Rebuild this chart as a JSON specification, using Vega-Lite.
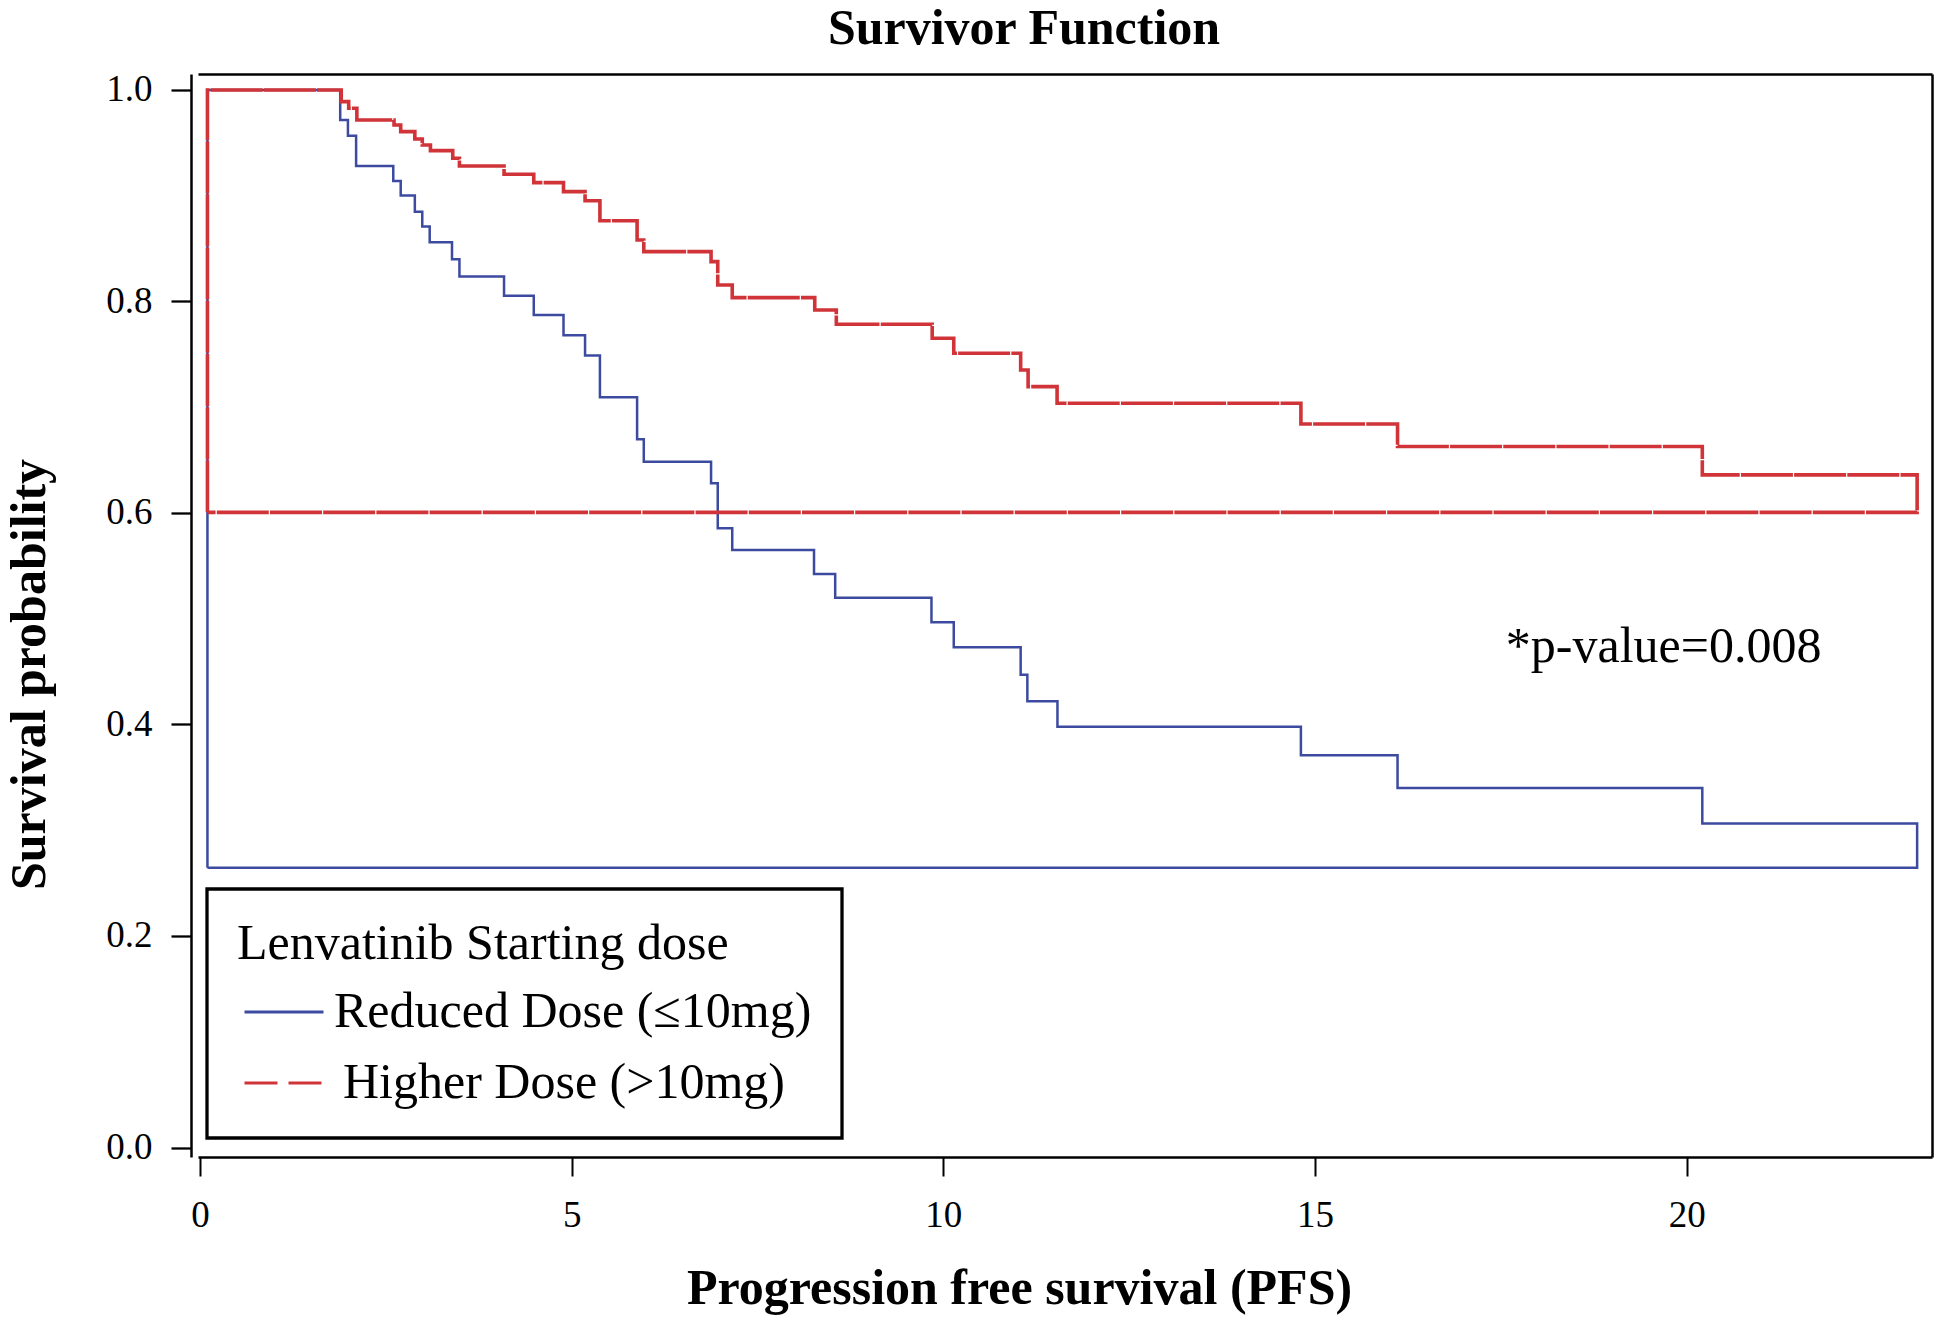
{
  "$schema": "https://vega.github.io/schema/vega-lite/v6.json",
  "width": 1734,
  "height": 1083,
  "autosize": {"type": "none"},
  "padding": {"left": 198, "top": 74, "right": 3, "bottom": 162},
  "background": "white",
  "config": {
    "view": {"stroke": null},
    "font": "Liberation Serif",
    "axis": {"grid": false, "domainColor": "black", "tickColor": "black", "labelColor": "black", "titleColor": "black", "labelFont": "Liberation Serif", "titleFont": "Liberation Serif"}
  },
  "title": {"text": "Survivor Function", "font": "Liberation Serif", "fontSize": 50, "fontWeight": "bold", "color": "black", "anchor": "middle", "dx": -41, "offset": 17},
  "datasets": {
    "km": [
      {"group": "Reduced Dose (≤10mg)", "i": 0, "t": 0.1, "s": 0.2646},
      {"group": "Reduced Dose (≤10mg)", "i": 1, "t": 0.1, "s": 1.0},
      {"group": "Reduced Dose (≤10mg)", "i": 2, "t": 1.886, "s": 0.9716},
      {"group": "Reduced Dose (≤10mg)", "i": 3, "t": 1.99, "s": 0.9568},
      {"group": "Reduced Dose (≤10mg)", "i": 4, "t": 2.10, "s": 0.9281},
      {"group": "Reduced Dose (≤10mg)", "i": 5, "t": 2.60, "s": 0.9139},
      {"group": "Reduced Dose (≤10mg)", "i": 6, "t": 2.70, "s": 0.9001},
      {"group": "Reduced Dose (≤10mg)", "i": 7, "t": 2.89, "s": 0.8849},
      {"group": "Reduced Dose (≤10mg)", "i": 8, "t": 2.99, "s": 0.8708},
      {"group": "Reduced Dose (≤10mg)", "i": 9, "t": 3.09, "s": 0.8560},
      {"group": "Reduced Dose (≤10mg)", "i": 10, "t": 3.39, "s": 0.8399},
      {"group": "Reduced Dose (≤10mg)", "i": 11, "t": 3.49, "s": 0.8235},
      {"group": "Reduced Dose (≤10mg)", "i": 12, "t": 4.09, "s": 0.8055},
      {"group": "Reduced Dose (≤10mg)", "i": 13, "t": 4.49, "s": 0.7872},
      {"group": "Reduced Dose (≤10mg)", "i": 14, "t": 4.89, "s": 0.7680},
      {"group": "Reduced Dose (≤10mg)", "i": 15, "t": 5.18, "s": 0.7488},
      {"group": "Reduced Dose (≤10mg)", "i": 16, "t": 5.38, "s": 0.7094},
      {"group": "Reduced Dose (≤10mg)", "i": 17, "t": 5.88, "s": 0.6697},
      {"group": "Reduced Dose (≤10mg)", "i": 18, "t": 5.97, "s": 0.6485},
      {"group": "Reduced Dose (≤10mg)", "i": 19, "t": 6.875, "s": 0.6281},
      {"group": "Reduced Dose (≤10mg)", "i": 20, "t": 6.965, "s": 0.5855},
      {"group": "Reduced Dose (≤10mg)", "i": 21, "t": 7.16, "s": 0.5650},
      {"group": "Reduced Dose (≤10mg)", "i": 22, "t": 8.26, "s": 0.5423},
      {"group": "Reduced Dose (≤10mg)", "i": 23, "t": 8.545, "s": 0.5199},
      {"group": "Reduced Dose (≤10mg)", "i": 24, "t": 9.84, "s": 0.4966},
      {"group": "Reduced Dose (≤10mg)", "i": 25, "t": 10.14, "s": 0.4730},
      {"group": "Reduced Dose (≤10mg)", "i": 26, "t": 11.04, "s": 0.4471},
      {"group": "Reduced Dose (≤10mg)", "i": 27, "t": 11.13, "s": 0.4219},
      {"group": "Reduced Dose (≤10mg)", "i": 28, "t": 11.535, "s": 0.3979},
      {"group": "Reduced Dose (≤10mg)", "i": 29, "t": 14.81, "s": 0.3708},
      {"group": "Reduced Dose (≤10mg)", "i": 30, "t": 16.11, "s": 0.3400},
      {"group": "Reduced Dose (≤10mg)", "i": 31, "t": 20.21, "s": 0.3064},
      {"group": "Reduced Dose (≤10mg)", "i": 32, "t": 23.10, "s": 0.2646},
      {"group": "Reduced Dose (≤10mg)", "i": 33, "t": 0.1, "s": 0.2646},
      {"group": "Higher Dose (>10mg)", "i": 0, "t": 0.1, "s": 0.6006},
      {"group": "Higher Dose (>10mg)", "i": 1, "t": 0.1, "s": 1.0},
      {"group": "Higher Dose (>10mg)", "i": 2, "t": 1.90, "s": 0.9890},
      {"group": "Higher Dose (>10mg)", "i": 3, "t": 2.00, "s": 0.9827},
      {"group": "Higher Dose (>10mg)", "i": 4, "t": 2.11, "s": 0.9716},
      {"group": "Higher Dose (>10mg)", "i": 5, "t": 2.61, "s": 0.9669},
      {"group": "Higher Dose (>10mg)", "i": 6, "t": 2.70, "s": 0.9606},
      {"group": "Higher Dose (>10mg)", "i": 7, "t": 2.89, "s": 0.9537},
      {"group": "Higher Dose (>10mg)", "i": 8, "t": 2.99, "s": 0.9480},
      {"group": "Higher Dose (>10mg)", "i": 9, "t": 3.10, "s": 0.9426},
      {"group": "Higher Dose (>10mg)", "i": 10, "t": 3.40, "s": 0.9354},
      {"group": "Higher Dose (>10mg)", "i": 11, "t": 3.49, "s": 0.9281},
      {"group": "Higher Dose (>10mg)", "i": 12, "t": 4.09, "s": 0.9203},
      {"group": "Higher Dose (>10mg)", "i": 13, "t": 4.49, "s": 0.9124},
      {"group": "Higher Dose (>10mg)", "i": 14, "t": 4.89, "s": 0.9039},
      {"group": "Higher Dose (>10mg)", "i": 15, "t": 5.18, "s": 0.8953},
      {"group": "Higher Dose (>10mg)", "i": 16, "t": 5.38, "s": 0.8764},
      {"group": "Higher Dose (>10mg)", "i": 17, "t": 5.88, "s": 0.8582},
      {"group": "Higher Dose (>10mg)", "i": 18, "t": 5.97, "s": 0.8471},
      {"group": "Higher Dose (>10mg)", "i": 19, "t": 6.875, "s": 0.8377},
      {"group": "Higher Dose (>10mg)", "i": 20, "t": 6.965, "s": 0.8156},
      {"group": "Higher Dose (>10mg)", "i": 21, "t": 7.16, "s": 0.8036},
      {"group": "Higher Dose (>10mg)", "i": 22, "t": 8.27, "s": 0.7920},
      {"group": "Higher Dose (>10mg)", "i": 23, "t": 8.56, "s": 0.7784},
      {"group": "Higher Dose (>10mg)", "i": 24, "t": 9.85, "s": 0.7652},
      {"group": "Higher Dose (>10mg)", "i": 25, "t": 10.14, "s": 0.7510},
      {"group": "Higher Dose (>10mg)", "i": 26, "t": 11.04, "s": 0.7352},
      {"group": "Higher Dose (>10mg)", "i": 27, "t": 11.14, "s": 0.7195},
      {"group": "Higher Dose (>10mg)", "i": 28, "t": 11.53, "s": 0.7037},
      {"group": "Higher Dose (>10mg)", "i": 29, "t": 14.81, "s": 0.6842},
      {"group": "Higher Dose (>10mg)", "i": 30, "t": 16.11, "s": 0.6628},
      {"group": "Higher Dose (>10mg)", "i": 31, "t": 20.21, "s": 0.6360},
      {"group": "Higher Dose (>10mg)", "i": 32, "t": 23.10, "s": 0.6006},
      {"group": "Higher Dose (>10mg)", "i": 33, "t": 0.1, "s": 0.6006}
    ],
    "note": [
      {"label": "*p-value=0.008", "t": 19.69, "s": 0.4595}
    ]
  },
  "layer": [
    {
      "data": {"name": "km"},
      "transform": [{"filter": "datum.group === 'Reduced Dose (≤10mg)'"}],
      "mark": {"type": "line", "interpolate": "step-after", "strokeWidth": 2.5},
      "encoding": {
        "x": {"field": "t", "type": "quantitative", "scale": {"domain": [-0.027, 23.30], "nice": false, "zero": false},
          "axis": {"orient": "bottom", "values": [0, 5, 10, 15, 20], "format": "d", "tickSize": 19, "tickWidth": 2, "domainWidth": 2.5, "labelFontSize": 37, "labelPadding": 21, "labelFlush": false, "labelOverlap": false, "title": "Progression free survival (PFS)", "titleFontSize": 50, "titleFontWeight": "bold", "titlePadding": 30, "titleX": 821}},
        "y": {"field": "s", "type": "quantitative", "scale": {"domain": [-0.00898, 1.0151], "nice": false, "zero": false},
          "axis": {"orient": "left", "offset": 7, "values": [0, 0.2, 0.4, 0.6, 0.8, 1.0], "format": ".1f", "tickSize": 20, "tickWidth": 2.3, "domainWidth": 2.5, "labelFontSize": 37, "labelPadding": 19, "labelOverlap": false, "title": "Survival probability", "titleFontSize": 50, "titleFontWeight": "bold", "titlePadding": 51, "titleY": 600}},
        "color": {"field": "group", "type": "nominal",
          "scale": {"domain": ["Reduced Dose (≤10mg)", "Higher Dose (>10mg)"], "range": ["#3C4A9F", "#D03438"]},
          "legend": {"orient": "none", "legendX": 9, "legendY": 815, "title": "Lenvatinib Starting dose", "titleFont": "Liberation Serif", "titleFontSize": 50, "titleFontWeight": "normal", "titleColor": "black", "titlePadding": 2, "titleLimit": 1000, "labelFont": "Liberation Serif", "labelFontSize": 50, "labelColor": "black", "labelLimit": 1000, "labelOffset": 10, "symbolType": "stroke", "symbolSize": 6241, "symbolStrokeWidth": 2.8, "symbolOffset": 6, "rowPadding": 5, "padding": 30, "strokeColor": "black",
            "encode": {"legend": {"update": {"strokeWidth": {"value": 3.3}}}, "labels": {"update": {"dx": {"signal": "datum.value === 'Higher Dose (>10mg)' ? 8 : -1"}}}, "symbols": {"update": {"strokeDash": {"signal": "datum.value === 'Higher Dose (>10mg)' ? [33, 11] : [1, 0]"}}}}}},
        "order": {"field": "i", "type": "quantitative"}
      }
    },
    {
      "data": {"name": "km"},
      "transform": [{"filter": "datum.group === 'Higher Dose (>10mg)'"}],
      "mark": {"type": "line", "interpolate": "step-after", "strokeWidth": 3.6, "strokeDash": [52, 1.2]},
      "encoding": {
        "x": {"field": "t", "type": "quantitative", "scale": {"domain": [-0.027, 23.30], "nice": false, "zero": false}, "axis": null},
        "y": {"field": "s", "type": "quantitative", "scale": {"domain": [-0.00898, 1.0151], "nice": false, "zero": false}, "axis": null},
        "color": {"field": "group", "type": "nominal", "scale": {"domain": ["Reduced Dose (≤10mg)", "Higher Dose (>10mg)"], "range": ["#3C4A9F", "#D03438"]}},
        "order": {"field": "i", "type": "quantitative"}
      }
    },
    {
      "data": {"name": "note"},
      "mark": {"type": "text", "font": "Liberation Serif", "fontSize": 50, "color": "black", "align": "center", "baseline": "alphabetic"},
      "encoding": {
        "x": {"field": "t", "type": "quantitative", "scale": {"domain": [-0.027, 23.30], "nice": false, "zero": false},
          "axis": {"orient": "top", "labels": false, "ticks": false, "title": null, "domainWidth": 2.5, "domainColor": "black"}},
        "y": {"field": "s", "type": "quantitative", "scale": {"domain": [-0.00898, 1.0151], "nice": false, "zero": false},
          "axis": {"orient": "right", "labels": false, "ticks": false, "title": null, "domainWidth": 2.5, "domainColor": "black"}},
        "text": {"field": "label"}
      }
    }
  ],
  "resolve": {"axis": {"x": "independent", "y": "independent"}}
}
